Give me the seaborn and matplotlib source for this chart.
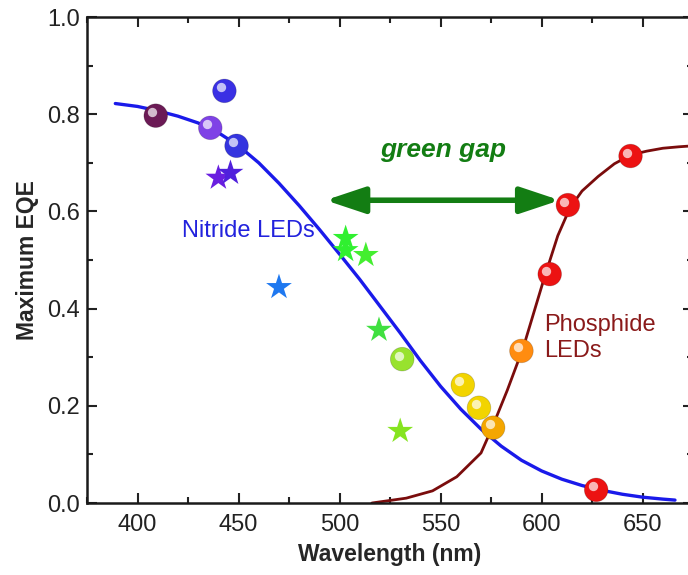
import pandas as pd
import matplotlib.pyplot as plt
import matplotlib.transforms as mtransforms
from matplotlib.ticker import MultipleLocator
import seaborn as sns

# Nitride LED fit curve (blue)
nitride_wl = [389, 400, 410, 420, 430, 440, 450, 460, 470, 480, 490, 500, 510, 520, 530,
              540, 550, 560, 570, 580, 590, 600, 610, 620, 630, 640, 650, 660, 666]
nitride_eqe = [0.822, 0.816, 0.807, 0.796, 0.782, 0.762, 0.735, 0.700, 0.658, 0.612, 0.563, 0.512,
               0.46, 0.405, 0.35, 0.293, 0.24, 0.193, 0.152, 0.117, 0.088, 0.066, 0.049, 0.036,
               0.026, 0.018, 0.012, 0.008, 0.006]

# Phosphide LED fit curve (dark red)
phosphide_wl = [516, 533, 546, 558, 570, 575, 583, 591, 601, 608, 614, 620, 628, 636, 644, 652, 660, 668, 675]
phosphide_eqe = [0.0, 0.01, 0.025, 0.054, 0.103, 0.15, 0.232, 0.321, 0.459, 0.55, 0.607, 0.642, 0.672,
                 0.698, 0.716, 0.724, 0.73, 0.733, 0.735]

# Sphere markers
sphere_wl = [409, 443, 436, 449, 531, 561, 569, 576, 590, 604, 613, 644, 627]
sphere_eqe = [0.797, 0.848, 0.772, 0.735, 0.296, 0.243, 0.196, 0.155, 0.313, 0.471, 0.613, 0.714, 0.027]
sphere_col = ["#6b1a55", "#3a30e4", "#7f42e6", "#3434df", "#98e22e", "#f2d400", "#f2d400",
              "#f4a600", "#ff8c10", "#ec1212", "#ec1212", "#ec1212", "#ec1212"]

# Star markers
star_wl = [440, 446, 470, 503, 503, 513, 519.5, 530]
star_eqe = [0.669, 0.679, 0.444, 0.545, 0.52, 0.51, 0.356, 0.148]
star_col = ["#6a1ee0", "#5020dc", "#1e78f0", "#30f030", "#30f030", "#44ee30", "#40e040", "#86e420"]

spheres = pd.DataFrame({"wl": sphere_wl, "eqe": sphere_eqe, "col": sphere_col})
stars = pd.DataFrame({"wl": star_wl, "eqe": star_eqe, "col": star_col})

sns.set_style("ticks")
plt.rcParams['font.family'] = ['Liberation Sans', 'DejaVu Sans']

fig = plt.figure(figsize=(6.88, 5.75), dpi=100)
ax = fig.add_axes([0.1265, 0.1252, 0.881, 0.8452])

sns.lineplot(x=nitride_wl, y=nitride_eqe, color="#1a1aea", lw=2.4, ax=ax, zorder=2)
sns.lineplot(x=phosphide_wl, y=phosphide_eqe, color="#7a0c0c", lw=2.0, ax=ax, zorder=2)

sns.scatterplot(data=stars, x="wl", y="eqe", hue="col", palette={c: c for c in star_col},
                marker="*", s=380, linewidth=0, legend=False, ax=ax, zorder=3)
sns.scatterplot(data=spheres, x="wl", y="eqe", hue="col", palette={c: c for c in sphere_col},
                marker="o", s=290, linewidth=0.6, edgecolor="#00000030", legend=False, ax=ax, zorder=4)
# glossy highlight on spheres
shift = ax.transData + mtransforms.ScaledTranslation(-2.5 / 72, 2.5 / 72, fig.dpi_scale_trans)
ax.scatter(spheres["wl"], spheres["eqe"], s=45, color="white", alpha=0.7, linewidth=0,
           transform=shift, zorder=5)

ax.annotate("", xy=(609, 0.623), xytext=(493, 0.623),
            arrowprops=dict(arrowstyle="<|-|>,head_length=1.2,head_width=0.4", lw=4,
                            color="#137d13", mutation_scale=20, shrinkA=0, shrinkB=0))
ax.text(551, 0.727, "green gap", color="#137d13", fontsize=19, fontweight="bold",
        fontstyle="italic", ha="center", va="center")
ax.text(455, 0.56, "Nitride LEDs", color="#2222dd", fontsize=17, ha="center", va="center")
ax.text(601, 0.34, "Phosphide\nLEDs", color="#8a1a1a", fontsize=17, ha="left", va="center",
        linespacing=1.25)

ax.set_xlim(375, 675)
ax.set_ylim(0, 1.0)
ax.xaxis.set_major_locator(MultipleLocator(50))
ax.xaxis.set_minor_locator(MultipleLocator(25))
ax.yaxis.set_major_locator(MultipleLocator(0.2))
ax.yaxis.set_minor_locator(MultipleLocator(0.1))
ax.yaxis.set_major_formatter(plt.FuncFormatter(lambda v, p: f"{v:.1f}"))
ax.tick_params(which="both", direction="in", top=True, right=True, width=1.5, labelsize=17,
               color="#222222", labelcolor="#222222")
ax.tick_params(which="major", length=7)
ax.tick_params(which="minor", length=4.5)
ax.tick_params(axis="x", pad=8)
ax.tick_params(axis="y", pad=5)
for sp in ax.spines.values():
    sp.set_linewidth(1.8)
    sp.set_color("#1a1a1a")

ax.set_xlabel("Wavelength (nm)", fontsize=16.5, fontweight="bold", labelpad=5)
ax.set_ylabel("Maximum EQE", fontsize=16.5, fontweight="bold", labelpad=6)

fig.savefig("out.png", dpi=100)
